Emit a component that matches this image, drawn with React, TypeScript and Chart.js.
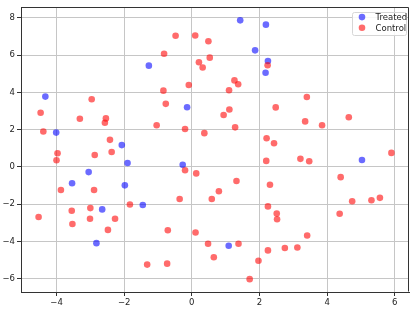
import React, { useEffect, useRef } from 'react';
import { Chart, registerables } from 'chart.js';

Chart.register(...registerables);

const xTicks = [-4, -2, 0, 2, 4, 6];
const yTicks = [-6, -4, -2, 0, 2, 4, 6, 8];

const seriesNames = ['Treated', 'Control'];
const seriesColors = ['rgba(0,0,255,0.58)', 'rgba(255,0,0,0.58)'];

const treatedX = [-4.33, -4.01, -2.07, -1.27, -0.14, 1.43, 2.19, 1.87, 2.25, 2.18, 5.03, -1.90, -0.27, -3.05, -3.54, -1.98, -1.45, -2.65, -2.82, 1.09];
const treatedY = [3.77, 1.84, 1.17, 5.43, 3.20, 7.86, 7.63, 6.25, 5.68, 5.05, 0.37, 0.21, 0.11, -0.28, -0.88, -0.99, -2.04, -2.28, -4.09, -4.23];

const controlX = [
  -4.47, -4.39, -2.96, -3.31, -2.54, -2.57, -2.42, -2.87, -2.37, -3.97, -4.00,
  -0.48, -0.82, -0.84, -0.77, -1.04, -0.20, -0.09, 0.10, 0.49, 0.21, 0.32, 0.53, 0.37,
  2.24, 1.26, 1.37, 1.10, 1.11, 0.94, 1.28, 2.48, 3.40, 3.35, 3.85, 4.64, 2.21, 2.43,
  2.20, 3.21, 3.47, 5.90, -0.20, 0.13, -3.87, -2.89, -0.36, -1.83, -3.55, -3.00,
  -4.53, -3.01, -2.27, -3.53, -2.48, -0.71, 0.11, 0.48, -1.32, -0.73, 4.40, 1.32,
  2.31, 0.80, 0.59, 4.74, 5.31, 5.56, 2.25, 2.51, 2.52, 4.37, 3.41, 1.38, 0.65,
  2.25, 2.75, 3.12, 1.97, 1.71,
];
const controlY = [
  2.90, 1.90, 3.63, 2.58, 2.60, 2.37, 1.45, 0.64, 0.80, 0.73, 0.36,
  7.03, 6.07, 4.09, 3.38, 2.23, 2.03, 4.39, 7.05, 6.74, 5.61, 5.33, 5.86, 1.81,
  5.45, 4.64, 4.43, 4.11, 3.08, 2.78, 2.12, 3.19, 3.75, 2.44, 2.23, 2.66, 1.54, 1.27,
  0.32, 0.43, 0.30, 0.75, -0.18, -0.35, -1.24, -1.24, -1.72, -2.02, -2.35, -2.21,
  -2.69, -2.78, -2.78, -3.06, -3.38, -3.40, -3.52, -4.12, -5.24, -5.19, -0.55, -0.76,
  -0.96, -1.31, -1.72, -1.84, -1.79, -1.66, -2.12, -2.50, -2.81, -2.51, -3.68, -4.12, -4.85,
  -4.48, -4.35, -4.32, -5.03, -6.02,
];

const xRange = [-5.05, 6.42];
const yRange = [-6.71, 8.57];

const FONT = 'DejaVu Sans';
const fmt = (v: number) => (v < 0 ? '\u2212' + Math.abs(v) : String(v));

const framePlugin = {
  id: 'frameAndLegend',
  afterDraw(chart: any) {
    const { ctx, chartArea } = chart;
    const l = Math.round(chartArea.left) + 0.5;
    const r = Math.round(chartArea.right) - 0.5;
    const t = Math.round(chartArea.top) + 0.5;
    const b = Math.round(chartArea.bottom) - 0.5;
    ctx.save();
    ctx.strokeStyle = '#333333';
    ctx.lineWidth = 1;
    ctx.beginPath();
    ctx.moveTo(l, t);
    ctx.lineTo(r, t);
    ctx.lineTo(r, b);
    ctx.stroke();

    // legend
    const bw = 54;
    const bh = 23;
    const bx = chartArea.right - 3.5 - bw;
    const by = chartArea.top + 4.5;
    ctx.fillStyle = 'rgba(255,255,255,0.85)';
    ctx.strokeStyle = '#d6d6d6';
    ctx.lineWidth = 1;
    ctx.beginPath();
    (ctx as any).roundRect(Math.round(bx) + 0.5, Math.round(by) + 0.5, bw, bh, 2);
    ctx.fill();
    ctx.stroke();
    ctx.font = `8.5px "${FONT}"`;
    ctx.textBaseline = 'middle';
    ctx.textAlign = 'left';
    chart.data.datasets.forEach((ds: any, i: number) => {
      const cy = by + 5.5 + i * 10.7;
      ctx.fillStyle = ds.backgroundColor;
      ctx.beginPath();
      ctx.arc(bx + 10.5, cy, 3.3, 0, Math.PI * 2);
      ctx.fill();
      ctx.fillStyle = '#222222';
      ctx.fillText(ds.label, bx + 24, cy + 0.5);
    });
    ctx.restore();
  },
};

export default function App() {
  const ref = useRef<HTMLCanvasElement | null>(null);
  useEffect(() => {
    if (!ref.current) return;
    const mk = (xs: number[], ys: number[]) => xs.map((x, i) => ({ x, y: ys[i] }));
    const chart = new Chart(ref.current, {
      type: 'scatter',
      data: {
        datasets: [
          {
            label: seriesNames[0],
            data: mk(treatedX, treatedY),
            backgroundColor: seriesColors[0],
            borderWidth: 0,
            pointRadius: 3.3,
            order: 1,
          },
          {
            label: seriesNames[1],
            data: mk(controlX, controlY),
            backgroundColor: seriesColors[1],
            borderWidth: 0,
            pointRadius: 3.3,
            order: 0,
          },
        ],
      },
      options: {
        animation: false,
        responsive: true,
        maintainAspectRatio: false,
        layout: { padding: { left: 0, right: 6, top: 5, bottom: 0 } },
        plugins: { legend: { display: false }, tooltip: { enabled: false } },
        scales: {
          x: {
            type: 'linear',
            min: xRange[0],
            max: xRange[1],
            afterBuildTicks: (axis: any) => {
              axis.ticks = xTicks.map((v) => ({ value: v }));
            },
            afterFit: (scale: any) => {
              scale.height = 18;
            },
            grid: { color: '#c6c6c6', lineWidth: 1, tickLength: 4, tickColor: '#333333' },
            border: { display: true, color: '#333333', width: 1 },
            ticks: {
              padding: 2,
              color: '#222222',
              font: { family: FONT, size: 8.5 },
              callback: (v: any) => fmt(Number(v)),
              maxRotation: 0,
              autoSkip: false,
            },
          },
          y: {
            type: 'linear',
            min: yRange[0],
            max: yRange[1],
            afterBuildTicks: (axis: any) => {
              axis.ticks = yTicks.map((v) => ({ value: v }));
            },
            afterFit: (scale: any) => {
              scale.width = 21;
            },
            grid: { color: '#c6c6c6', lineWidth: 1, tickLength: 4, tickColor: '#333333' },
            border: { display: true, color: '#333333', width: 1 },
            ticks: {
              padding: 2,
              color: '#222222',
              font: { family: FONT, size: 8.5 },
              callback: (v: any) => fmt(Number(v)),
              autoSkip: false,
            },
          },
        },
      },
      plugins: [framePlugin],
    });
    return () => chart.destroy();
  }, []);
  return (
    <div style={{ position: 'absolute', left: 0, top: 0, width: 415, height: 310 }}>
      <canvas ref={ref} />
    </div>
  );
}
